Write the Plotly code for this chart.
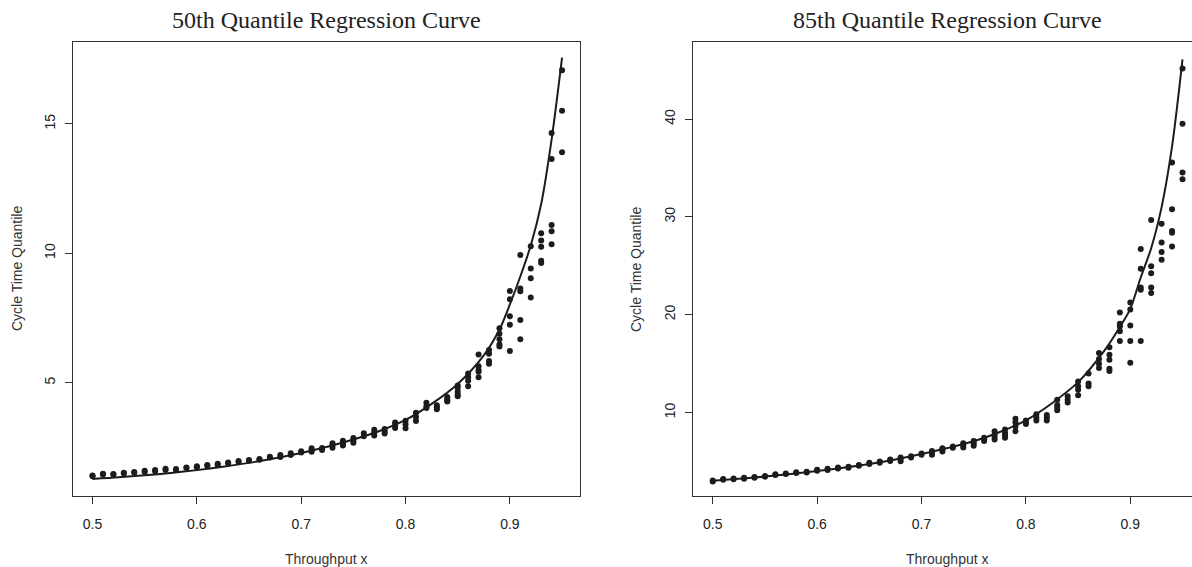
import plotly.graph_objects as go

# ---------------- data ----------------
x_levels = [0.50, 0.51, 0.52, 0.53, 0.54, 0.55, 0.56, 0.57, 0.58, 0.59,
            0.60, 0.61, 0.62, 0.63, 0.64, 0.65, 0.66, 0.67, 0.68, 0.69,
            0.70, 0.71, 0.72, 0.73, 0.74, 0.75, 0.76, 0.77, 0.78, 0.79,
            0.80, 0.81, 0.82, 0.83, 0.84, 0.85, 0.86, 0.87, 0.88, 0.89,
            0.90, 0.91, 0.92, 0.93, 0.94, 0.95]

q50_points = [
    [1.38, 1.41], [1.45, 1.48], [1.45, 1.47], [1.49, 1.52], [1.52, 1.55],
    [1.55, 1.60], [1.58, 1.62], [1.62, 1.67], [1.62, 1.66], [1.70, 1.72],
    [1.73, 1.77], [1.79, 1.82], [1.82, 1.87], [1.88, 1.91], [1.93, 1.97],
    [1.98, 2.01], [2.02, 2.05], [2.11, 2.14], [2.13, 2.20], [2.20, 2.27],
    [2.30, 2.35], [2.33, 2.40, 2.46], [2.40, 2.47], [2.48, 2.58, 2.66], [2.57, 2.66, 2.75],
    [2.68, 2.76, 2.86], [2.93, 3.04], [2.96, 3.07, 3.18], [3.03, 3.11, 3.21], [3.25, 3.35, 3.46],
    [3.24, 3.39, 3.53], [3.52, 3.67, 3.84], [4.02, 4.09, 4.22], [3.97, 4.05, 4.13], [4.27, 4.30, 4.37, 4.44],
    [4.47, 4.54, 4.65, 4.79, 4.89], [4.86, 5.07, 5.21, 5.35], [5.21, 5.42, 5.49, 5.63, 6.09],
    [5.73, 5.84, 6.12, 6.26], [6.40, 6.47, 6.68, 6.89, 7.10],
    [6.22, 7.24, 7.56, 8.22, 8.54], [6.68, 7.42, 8.53, 8.64, 9.93], [8.29, 9.03, 9.41, 10.27],
    [9.62, 9.71, 10.25, 10.49, 10.77], [10.35, 10.85, 11.09, 13.64, 14.64], [13.90, 15.50, 17.07],
]

q85_points = [
    [2.95, 3.05], [3.12, 3.20], [3.17, 3.25], [3.22, 3.32], [3.33, 3.40],
    [3.43, 3.50], [3.60, 3.68], [3.70, 3.76], [3.80, 3.88], [3.86, 3.95],
    [4.05, 4.14], [4.12, 4.25], [4.27, 4.37], [4.35, 4.45], [4.55, 4.62],
    [4.72, 4.85], [4.85, 5.00], [5.05, 5.18], [5.02, 5.25, 5.39], [5.40, 5.52],
    [5.68, 5.80], [5.68, 5.90, 6.05], [6.02, 6.20, 6.35], [6.40, 6.52], [6.42, 6.65, 6.86],
    [6.61, 6.85, 7.08], [7.08, 7.25, 7.42], [7.23, 7.50, 7.71, 8.08], [7.42, 7.70, 7.90, 8.27],
    [8.08, 8.56, 9.00, 9.37],
    [8.82, 9.00, 9.19], [9.19, 9.45, 9.82], [9.19, 9.45, 9.74], [10.22, 10.50, 10.77, 11.29],
    [11.03, 11.29, 11.66], [11.77, 12.32, 12.69, 13.17], [12.69, 12.95, 13.99],
    [14.54, 14.98, 15.46, 16.09], [14.24, 14.46, 15.39, 15.90, 16.68],
    [17.31, 18.30, 18.78, 19.08, 20.22],
    [15.09, 17.31, 18.89, 20.52, 21.25], [17.31, 22.55, 22.77, 24.69, 26.72],
    [22.21, 22.77, 24.24, 24.94, 29.67], [25.61, 26.42, 27.38, 29.30],
    [26.97, 28.38, 28.56, 30.77, 35.57], [33.84, 34.54, 39.52, 45.17],
]

curve_x = [0.50, 0.525, 0.55, 0.575, 0.60, 0.625, 0.65, 0.675, 0.70, 0.725, 0.75,
           0.775, 0.80, 0.825, 0.85, 0.875, 0.89, 0.90, 0.91, 0.92, 0.93, 0.94, 0.95]
curve_q50 = [1.28, 1.34, 1.42, 1.51, 1.62, 1.75, 1.90, 2.08, 2.28, 2.52, 2.80,
             3.13, 3.56, 4.18, 4.95, 6.05, 7.05, 8.02, 9.10, 10.30, 11.90, 14.40, 17.56]
curve_q85 = [3.03, 3.22, 3.45, 3.72, 4.02, 4.35, 4.73, 5.20, 5.75, 6.36, 7.05,
             8.00, 9.20, 10.95, 13.10, 16.30, 18.75, 20.60, 23.80, 26.80, 31.00, 37.20, 46.10]

titles = ["50th Quantile Regression Curve", "85th Quantile Regression Curve"]
x_title = "Throughput x"
y_title = "Cycle Time Quantile"
x_ticks = [0.5, 0.6, 0.7, 0.8, 0.9]
x_ticktext = ["0.5", "0.6", "0.7", "0.8", "0.9"]
y_ticks_left = [5, 10, 15]
y_ticks_right = [10, 20, 30, 40]

# ---------------- figure ----------------
W, H = 1192, 567
INK = "#1c1c1c"
AX = "#333333"
SANS = "Liberation Sans, Arial, sans-serif"
SERIF = "Liberation Serif, Times New Roman, serif"


def flatten(levels, groups):
    xs, ys = [], []
    for xv, grp in zip(levels, groups):
        for yv in grp:
            xs.append(xv)
            ys.append(yv)
    return xs, ys


fig = go.Figure()
for i, (pts, cy) in enumerate([(q50_points, curve_q50), (q85_points, curve_q85)]):
    xa = "x" if i == 0 else "x2"
    ya = "y" if i == 0 else "y2"
    px_, py_ = flatten(x_levels, pts)
    fig.add_trace(go.Scatter(x=px_, y=py_, mode="markers", xaxis=xa, yaxis=ya,
                             marker=dict(size=6, color=INK, line=dict(width=0)),
                             showlegend=False, hoverinfo="skip"))
    fig.add_trace(go.Scatter(x=curve_x, y=cy, mode="lines", xaxis=xa, yaxis=ya,
                             line=dict(color=INK, width=2, shape="spline", smoothing=0.8),
                             showlegend=False, hoverinfo="skip"))

# panel pixel geometry
yb, yt = 496, 42
left_dom = [73 / W, 580 / W]
right_dom = [693 / W, 1.0]
y_dom = [1 - yb / H, 1 - yt / H]

xcommon = dict(showgrid=False, zeroline=False, showline=True, linecolor=AX, linewidth=1,
               mirror=True, ticks="outside", ticklen=7, tickwidth=1, tickcolor=AX,
               tickvals=x_ticks, ticktext=x_ticktext, ticklabelstandoff=8,
               tickfont=dict(family=SANS, size=14, color="#222222"))
ycommon = dict(showgrid=False, zeroline=False, showline=True, linecolor=AX, linewidth=1,
               ticks="outside", ticklen=7, tickwidth=1, tickcolor=AX, tickangle=-90,
               ticklabelstandoff=4,
               tickfont=dict(family=SANS, size=14, color="#222222"))

fig.update_layout(
    width=W, height=H, margin=dict(l=0, r=0, t=0, b=0),
    paper_bgcolor="white", plot_bgcolor="white",
    xaxis=dict(domain=left_dom, range=[0.4813, 0.9672], anchor="y", **xcommon),
    yaxis=dict(domain=y_dom, range=[0.62, 18.16], anchor="x", mirror=True,
               tickvals=y_ticks_left, **ycommon),
    xaxis2=dict(domain=right_dom, range=[0.4811, 0.9591], anchor="y2", **xcommon),
    yaxis2=dict(domain=y_dom, range=[1.46, 47.88], anchor="x2", mirror=False,
                tickvals=y_ticks_right, **ycommon),
)

ann = []
centers = [(73 + 580) / 2, (693 + 1201) / 2]
ylab_x = [17, 636]
for i in range(2):
    ann.append(dict(text=titles[i], x=centers[i] / W, y=1 - 20 / H, xref="paper", yref="paper",
                    showarrow=False, xanchor="center", yanchor="middle",
                    font=dict(family=SERIF, size=24, color="#222222")))
    ann.append(dict(text=x_title, x=centers[i] / W, y=1 - 559 / H, xref="paper", yref="paper",
                    showarrow=False, xanchor="center", yanchor="middle",
                    font=dict(family=SANS, size=14, color="#333333")))
    ann.append(dict(text=y_title, x=ylab_x[i] / W, y=1 - 269 / H, xref="paper", yref="paper",
                    showarrow=False, xanchor="center", yanchor="middle", textangle=-90,
                    font=dict(family=SANS, size=14, color="#333333")))
fig.update_layout(annotations=ann)

fig.write_html("out.html")
